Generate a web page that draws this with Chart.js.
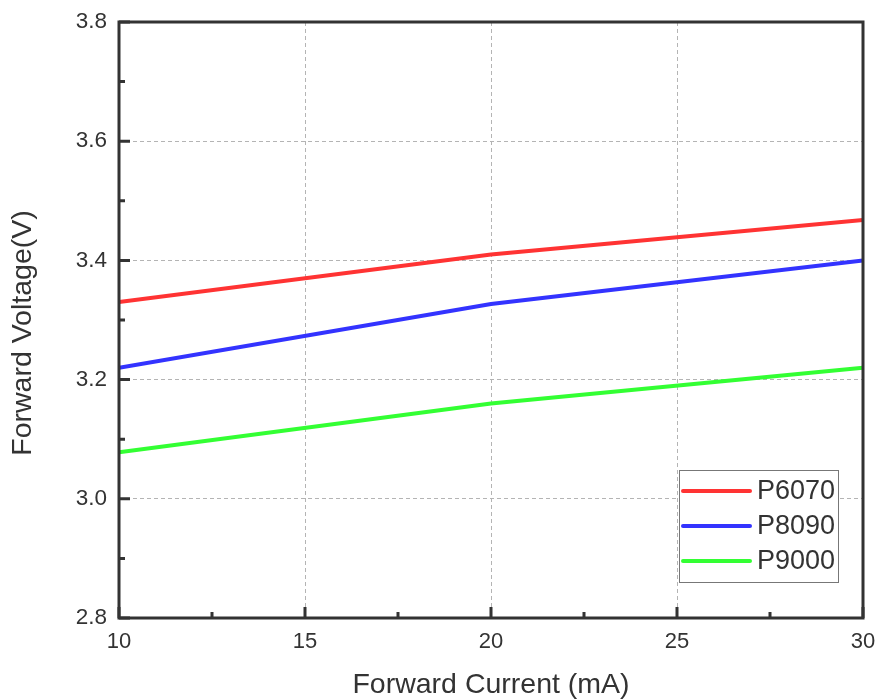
<!DOCTYPE html>
<html>
<head>
<meta charset="utf-8">
<script src="https://cdn.jsdelivr.net/npm/chart.js@4.4.1/dist/chart.umd.min.js"></script>
<style>
  html, body { margin: 0; padding: 0; background: #fff; }
  #wrap { position: relative; width: 877px; height: 700px; }
</style>
</head>
<body>
<div id="wrap"><canvas id="c"></canvas></div>
<script>
const current = [10, 20, 30]
const p6070 = [3.33, 3.41, 3.468]
const p8090 = [3.22, 3.327, 3.40]
const p9000 = [3.078, 3.16, 3.22]
const seriesNames = ['P6070', 'P8090', 'P9000']
const seriesColors = ['#ff3333', '#3333ff', '#33ff33']
const xTicks = [10, 15, 20, 25, 30]
const yTicks = [2.8, 3.0, 3.2, 3.4, 3.6, 3.8]
const yTitle = 'Forward Voltage(V)'

const FONT = '"Liberation Sans", Arial, Helvetica, sans-serif'
const INK = '#333333'

const pts = vals => current.map((x, i) => ({ x, y: vals[i] }))
const noPad = s => { s.paddingLeft = s.paddingRight = s.paddingTop = s.paddingBottom = 0 }

// frame, inward ticks, y title and the boxed legend drawn on top
const framePlugin = {
  id: 'frame',
  afterDraw(chart) {
    const { ctx, chartArea: a, scales } = chart
    const xs = scales.x, ys = scales.y
    ctx.save()
    ctx.strokeStyle = INK
    ctx.lineWidth = 3
    ctx.lineCap = 'butt'
    ctx.beginPath()
    for (let v = xTicks[0]; v <= xTicks[xTicks.length - 1]; v += 2.5) {
      const px = xs.getPixelForValue(v)
      const len = (v % 5 === 0) ? 11 : 6
      ctx.moveTo(px, a.bottom); ctx.lineTo(px, a.bottom - len)
    }
    for (let k = 0; k <= 10; k++) {
      const py = ys.getPixelForValue(yTicks[0] + k * 0.1)
      const len = (k % 2 === 0) ? 11 : 6
      ctx.moveTo(a.left, py); ctx.lineTo(a.left + len, py)
    }
    ctx.stroke()
    ctx.strokeRect(a.left, a.top, a.right - a.left, a.bottom - a.top)

    // y axis title, sits a little below the plot centre like the original
    ctx.save()
    ctx.translate(23, 333)
    ctx.rotate(-Math.PI / 2)
    ctx.font = '28.5px ' + FONT
    ctx.fillStyle = INK
    ctx.textAlign = 'center'
    ctx.textBaseline = 'middle'
    ctx.fillText(yTitle, 0, 0)
    ctx.restore()

    // legend
    const bx = 679, by = 470, bw = 159, bh = 112
    ctx.fillStyle = '#ffffff'
    ctx.fillRect(bx, by, bw, bh)
    ctx.lineWidth = 1
    ctx.strokeStyle = '#777777'
    ctx.strokeRect(bx + 0.5, by + 0.5, bw, bh)
    ctx.font = '27px ' + FONT
    ctx.textBaseline = 'middle'
    ctx.textAlign = 'left'
    chart.data.datasets.forEach((ds, i) => {
      const cy = by + 21 + i * 35
      ctx.strokeStyle = ds.borderColor
      ctx.lineWidth = 4
      ctx.lineCap = 'round'
      ctx.beginPath(); ctx.moveTo(bx + 4, cy); ctx.lineTo(bx + 71, cy); ctx.stroke()
      ctx.fillStyle = INK
      ctx.fillText(ds.label, bx + 78, cy + 1)
    })
    ctx.restore()
  }
}

new Chart(document.getElementById('c'), {
  type: 'line',
  data: {
    datasets: [p6070, p8090, p9000].map((vals, i) => ({
      label: seriesNames[i],
      data: pts(vals),
      borderColor: seriesColors[i],
      backgroundColor: seriesColors[i],
      borderWidth: 4,
      pointRadius: 0,
      tension: 0,
    }))
  },
  options: {
    responsive: true,
    maintainAspectRatio: false,
    animation: false,
    layout: { padding: { top: 22, right: 14, left: 0, bottom: 0 } },
    plugins: { legend: { display: false }, tooltip: { enabled: false } },
    scales: {
      x: {
        type: 'linear', min: 10, max: 30,
        afterFit(s) { s.height = 82; noPad(s) },
        afterBuildTicks(s) { s.ticks = xTicks.map(v => ({ value: v })) },
        ticks: { color: INK, font: { family: FONT, size: 22 }, padding: 11, maxRotation: 0 },
        grid: { color: '#b4b4b4', lineWidth: 1, drawTicks: false, tickLength: 0 },
        border: { display: false, dash: [4, 3] },
        title: { display: true, text: 'Forward Current (mA)', color: INK,
                 font: { family: FONT, size: 28.5, lineHeight: 1 }, padding: { top: 0, bottom: 1 } },
      },
      y: {
        min: 2.8, max: 3.8,
        afterFit(s) { s.width = 119; noPad(s) },
        afterBuildTicks(s) { s.ticks = yTicks.map(v => ({ value: v })) },
        ticks: { color: INK, font: { family: FONT, size: 22.5 }, padding: 12,
                 callback: v => v.toFixed(1) },
        grid: { color: '#b4b4b4', lineWidth: 1, drawTicks: false, tickLength: 0 },
        border: { display: false, dash: [4, 3] },
      }
    }
  },
  plugins: [framePlugin]
})
</script>
</body>
</html>
